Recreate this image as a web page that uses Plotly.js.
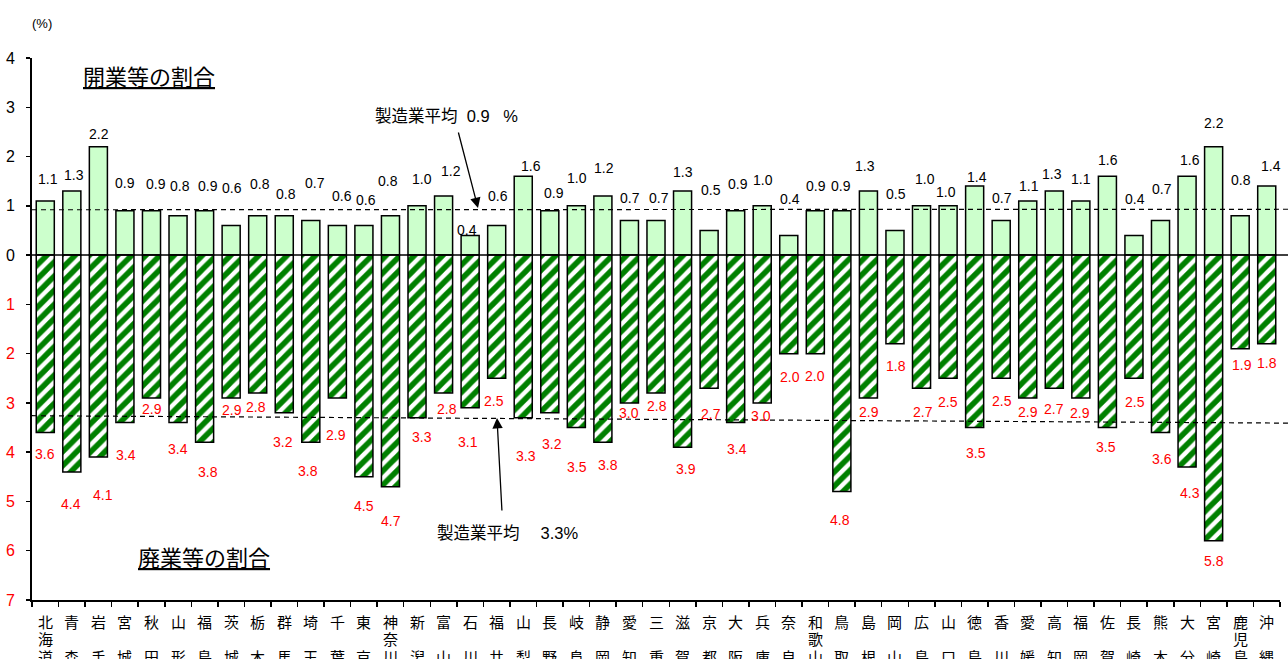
<!DOCTYPE html>
<html>
<head>
<meta charset="utf-8">
<script src="https://cdn.plot.ly/plotly-3.0.1.min.js"></script>
<style>html,body{margin:0;padding:0;background:#fff;}#chart{width:1288px;height:659px;}</style>
</head>
<body>
<div id="chart"></div>
<script>
// ---- data ----
const categories = ['北海道','青森','岩手','宮城','秋田','山形','福島','茨城','栃木','群馬','埼玉','千葉','東京','神奈川','新潟','富山','石川','福井','山梨','長野','岐阜','静岡','愛知','三重','滋賀','京都','大阪','兵庫','奈良','和歌山','鳥取','島根','岡山','広島','山口','徳島','香川','愛媛','高知','福岡','佐賀','長崎','熊本','大分','宮崎','鹿児島','沖縄'];
const openRates = [1.1,1.3,2.2,0.9,0.9,0.8,0.9,0.6,0.8,0.8,0.7,0.6,0.6,0.8,1.0,1.2,0.4,0.6,1.6,0.9,1.0,1.2,0.7,0.7,1.3,0.5,0.9,1.0,0.4,0.9,0.9,1.3,0.5,1.0,1.0,1.4,0.7,1.1,1.3,1.1,1.6,0.4,0.7,1.6,2.2,0.8,1.4];
const closeRates = [3.6,4.4,4.1,3.4,2.9,3.4,3.8,2.9,2.8,3.2,3.8,2.9,4.5,4.7,3.3,2.8,3.1,2.5,3.3,3.2,3.5,3.8,3.0,2.8,3.9,2.7,3.4,3.0,2.0,2.0,4.8,2.9,1.8,2.7,2.5,3.5,2.5,2.9,2.7,2.9,3.5,2.5,3.6,4.3,5.8,1.9,1.8];
const avgOpen = 0.9;
const avgClose = 3.3;
const yTickValues = [4,3,2,1,0,-1,-2,-3,-4,-5,-6,-7];
const yTickLabels = ['4','3','2','1','0','1','2','3','4','5','6','7'];

// ---- label nudges (pixels, layout only) ----
const openDX = [3,2,1,0,5,2,3,1,2,2,4,5,2,-2,5,7,-3,1,8,4,1,1,1,3,0,2,2,1,1,1,-1,-3,1,3,-2,2,1,1,-2,0,1,1,1,3,0,1,4];
const openDY = [22,16,13,28,27,30,25,38,32,22,38,30,26,35,27,25,5,30,10,18,28,28,23,23,19,40,27,26,36,25,25,25,36,27,14,9,23,15,17,22,16,36,32,16,24,36,20];
const closeDX = [0,-1,5,1,1,0,3,1,-2,-1,-3,-1,0,1,5,3,-2,-3,3,2,1,5,0,1,3,2,1,-1,1,0,-2,1,1,1,0,1,1,0,0,-1,-1,1,1,3,0,2,0];
const closeDY = [-22,-32,-38,-32,-11,-26,-30,-12,-14,-29,-29,-37,-29,-34,-19,-16,-34,-23,-38,-31,-39,-23,-10,-13,-22,-26,-26,-13,-23,-22,-28,-14,-22,-24,-24,-25,-23,-14,-21,-15,-19,-24,-27,-26,-20,-16,-19];

const LATIN = 'Liberation Sans, Arial, "Noto Sans CJK JP", sans-serif';
const CJK = '"Noto Sans CJK JP", "Noto Sans CJK SC", sans-serif';

// plot geometry (pixels) for paper conversion
const W = 1288, H = 659, ML = 32, MR = 8, MT = 58, MB = 59;
const PW = W - ML - MR, PH = H - MT - MB;
const px2paperX = px => (px - ML) / PW;
const py2paperY = py => (H - MB - py) / PH;

const traces = [
  {
    type: 'bar', x: categories, y: openRates,
    marker: {color: '#CCFFCC', line: {color: '#000', width: 1.5}},
    hoverinfo: 'skip'
  },
  {
    type: 'bar', x: categories, y: closeRates.map(v => -v),
    marker: {
      color: '#FFFFFF', line: {color: '#000', width: 1.5},
      pattern: {shape: '/', fgcolor: '#008000', bgcolor: '#FFFFFF', size: 10, solidity: 0.55, fillmode: 'replace'}
    },
    hoverinfo: 'skip'
  }
];

const annotations = [];
categories.forEach((c, i) => {
  annotations.push({x: c, y: openRates[i], xref: 'x', yref: 'y', text: openRates[i].toFixed(1),
    showarrow: false, xshift: openDX[i], yshift: openDY[i], xanchor: 'center', yanchor: 'middle',
    font: {family: LATIN, size: 14, color: '#000'}});
  annotations.push({x: c, y: -closeRates[i], xref: 'x', yref: 'y', text: closeRates[i].toFixed(1),
    showarrow: false, xshift: closeDX[i], yshift: closeDY[i], xanchor: 'center', yanchor: 'middle',
    font: {family: LATIN, size: 14, color: '#FF0000'}});
  const chars = Array.from(c);
  const rows = chars.length === 3 ? chars : [chars[0], '', chars[1]];
  const rowY = [621, 638.5, 656];
  rows.forEach((ch, r) => {
    if (!ch) return;
    annotations.push({x: c, xref: 'x', y: py2paperY(rowY[r]), yref: 'paper', text: ch, showarrow: false,
      xanchor: 'center', yanchor: 'middle', font: {family: CJK, size: 15, color: '#000'}});
  });
});

annotations.push(
  {xref: 'paper', yref: 'paper', x: px2paperX(149), y: py2paperY(75), text: '<u>開業等の割合</u>', showarrow: false,
   xanchor: 'center', yanchor: 'middle', font: {family: CJK, size: 22, color: '#000'}},
  {xref: 'paper', yref: 'paper', x: px2paperX(204), y: py2paperY(556), text: '<u>廃業等の割合</u>', showarrow: false,
   xanchor: 'center', yanchor: 'middle', font: {family: CJK, size: 22, color: '#000'}},
  {xref: 'paper', yref: 'paper', x: px2paperX(446), y: py2paperY(116), text: '製造業平均\u00A0\u00A00.9\u00A0\u00A0\u00A0%', showarrow: false,
   xanchor: 'center', yanchor: 'middle', font: {family: LATIN, size: 16.5, color: '#000'}},
  {xref: 'paper', yref: 'paper', x: px2paperX(508), y: py2paperY(533), text: '製造業平均\u3000\u00A0' + avgClose.toFixed(1) + '%', showarrow: false,
   xanchor: 'center', yanchor: 'middle', font: {family: LATIN, size: 16.5, color: '#000'}},
  {xref: 'paper', yref: 'paper', x: px2paperX(42), y: py2paperY(23), text: '(%)', showarrow: false,
   xanchor: 'center', yanchor: 'middle', font: {family: LATIN, size: 13, color: '#000'}},
  // arrows
  {xref: 'paper', yref: 'paper', x: px2paperX(478), y: py2paperY(208), text: '', showarrow: true,
   ax: -20, ay: -77, arrowhead: 2, arrowsize: 1.6, arrowwidth: 1.3, arrowcolor: '#000', standoff: 0},
  {xref: 'paper', yref: 'paper', x: px2paperX(497), y: py2paperY(418), text: '', showarrow: true,
   ax: 5, ay: 94, arrowhead: 2, arrowsize: 1.6, arrowwidth: 1.3, arrowcolor: '#000', standoff: 0}
);

const xRight = px2paperX(W);
const shapes = [
  {type: 'line', xref: 'paper', yref: 'y', x0: 0, x1: xRight, y0: 0, y1: 0, line: {color: '#000', width: 1.5}, layer: 'above'},
  {type: 'line', xref: 'paper', yref: 'y', x0: 0, x1: xRight, y0: avgOpen + 0.02, y1: avgOpen + 0.03, line: {color: '#000', width: 1.2, dash: '5px,4px'}, layer: 'above'},
  {type: 'line', xref: 'paper', yref: 'y', x0: 0, x1: xRight, y0: -avgClose + 0.04, y1: -avgClose - 0.11, line: {color: '#000', width: 1.2, dash: '5px,4px'}, layer: 'above'}
];

const layout = {
  width: W, height: H,
  margin: {l: ML, r: MR, t: MT, b: MB, pad: 0},
  paper_bgcolor: '#fff', plot_bgcolor: '#fff',
  showlegend: false,
  barmode: 'overlay',
  bargap: 0.32,
  xaxis: {
    type: 'category', showticklabels: false, showgrid: false, zeroline: false,
    showline: true, linecolor: '#000', linewidth: 2,
    ticks: 'outside', tickson: 'boundaries', ticklen: 5, tickwidth: 1.5, tickcolor: '#000',
    range: [-0.5, categories.length - 0.5], fixedrange: true
  },
  yaxis: {
    range: [-7, 4], showgrid: false, zeroline: false,
    showline: true, linecolor: '#000', linewidth: 2,
    ticks: 'outside', ticklen: 4, tickwidth: 1.5, tickcolor: '#000',
    tickvals: yTickValues,
    ticktext: yTickLabels.map((t, i) => yTickValues[i] < 0 ? '<span style="color:#FF0000">' + t + '</span>' : t),
    tickfont: {family: LATIN, size: 16, color: '#000'},
    ticklabelstandoff: 8,
    fixedrange: true
  },
  annotations: annotations,
  shapes: shapes
};

Plotly.newPlot('chart', traces, layout, {staticPlot: true, displayModeBar: false});
</script>
</body>
</html>
